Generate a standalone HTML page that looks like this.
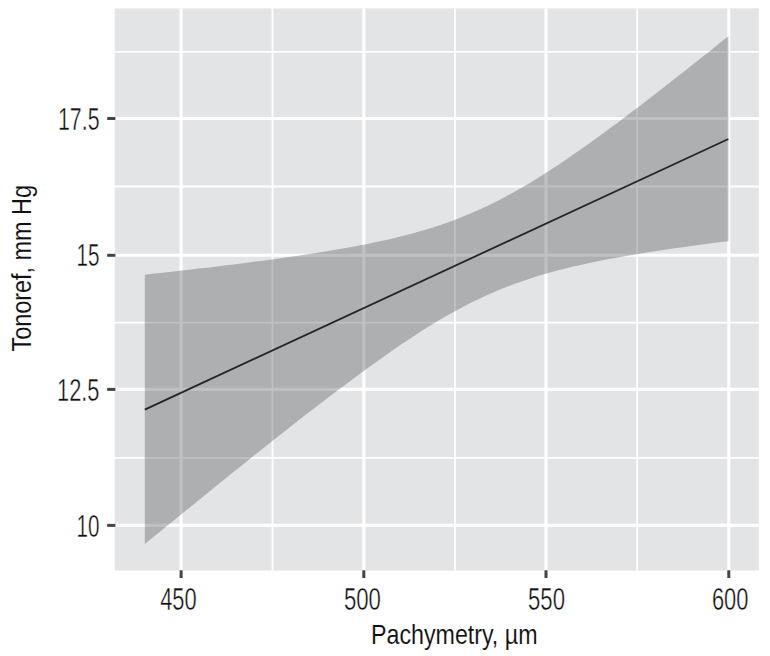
<!DOCTYPE html>
<html><head><meta charset="utf-8"><title>Tonoref vs Pachymetry</title>
<style>
html,body{margin:0;padding:0;background:#fff;}
body{width:770px;height:656px;overflow:hidden;}
svg{display:block;}
text{font-family:"Liberation Sans",Arial,sans-serif;fill:#111;stroke:#fff;stroke-width:0.4px;}
</style></head><body>
<svg width="770" height="656" viewBox="0 0 770 656">
<rect width="770" height="656" fill="#fff"/>
<rect x="114.8" y="8.4" width="644" height="562.1" fill="#e3e4e6"/>
<line x1="272.5" y1="8.4" x2="272.5" y2="570.5" stroke="#fff" stroke-width="1.8"/>
<line x1="454.9" y1="8.4" x2="454.9" y2="570.5" stroke="#fff" stroke-width="1.8"/>
<line x1="637.2" y1="8.4" x2="637.2" y2="570.5" stroke="#fff" stroke-width="1.8"/>
<line x1="114.8" y1="51.8" x2="758.8" y2="51.8" stroke="#fff" stroke-width="1.8"/>
<line x1="114.8" y1="186.5" x2="758.8" y2="186.5" stroke="#fff" stroke-width="1.8"/>
<line x1="114.8" y1="322.7" x2="758.8" y2="322.7" stroke="#fff" stroke-width="1.8"/>
<line x1="114.8" y1="457.9" x2="758.8" y2="457.9" stroke="#fff" stroke-width="1.8"/>
<line x1="181.1" y1="8.4" x2="181.1" y2="570.5" stroke="#fff" stroke-width="3.1"/>
<line x1="363.8" y1="8.4" x2="363.8" y2="570.5" stroke="#fff" stroke-width="3.1"/>
<line x1="546" y1="8.4" x2="546" y2="570.5" stroke="#fff" stroke-width="3.1"/>
<line x1="728.8" y1="8.4" x2="728.8" y2="570.5" stroke="#fff" stroke-width="3.1"/>
<line x1="114.8" y1="118.5" x2="758.8" y2="118.5" stroke="#fff" stroke-width="3.1"/>
<line x1="114.8" y1="255.3" x2="758.8" y2="255.3" stroke="#fff" stroke-width="3.1"/>
<line x1="114.8" y1="389.4" x2="758.8" y2="389.4" stroke="#fff" stroke-width="3.1"/>
<line x1="114.8" y1="525.4" x2="758.8" y2="525.4" stroke="#fff" stroke-width="3.1"/>
<polygon points="144.8,274.68 152.19,273.87 159.57,273.06 166.96,272.24 174.35,271.41 181.74,270.57 189.12,269.72 196.51,268.87 203.9,268 211.29,267.13 218.67,266.24 226.06,265.35 233.45,264.43 240.84,263.51 248.22,262.57 255.61,261.62 263,260.64 270.38,259.65 277.77,258.64 285.16,257.61 292.55,256.56 299.93,255.47 307.32,254.37 314.71,253.23 322.1,252.05 329.48,250.85 336.87,249.6 344.26,248.31 351.65,246.97 359.03,245.58 366.42,244.13 373.81,242.62 381.19,241.04 388.58,239.38 395.97,237.64 403.36,235.81 410.74,233.88 418.13,231.85 425.52,229.69 432.91,227.41 440.29,225 447.68,222.44 455.07,219.73 462.46,216.85 469.84,213.82 477.23,210.61 484.62,207.23 492.01,203.67 499.39,199.95 506.78,196.05 514.17,192 521.55,187.78 528.94,183.42 536.33,178.92 543.72,174.29 551.1,169.53 558.49,164.66 565.88,159.69 573.27,154.62 580.65,149.47 588.04,144.23 595.43,138.93 602.82,133.55 610.2,128.12 617.59,122.63 624.98,117.1 632.36,111.51 639.75,105.89 647.14,100.23 654.53,94.53 661.91,88.8 669.3,83.04 676.69,77.26 684.08,71.45 691.46,65.62 698.85,59.76 706.24,53.89 713.63,48 721.01,42.1 728.4,36.18 728.4,241.14 721.01,242.08 713.63,243.02 706.24,243.99 698.85,244.97 691.46,245.97 684.08,246.99 676.69,248.04 669.3,249.1 661.91,250.2 654.53,251.32 647.14,252.48 639.75,253.67 632.36,254.9 624.98,256.17 617.59,257.49 610.2,258.85 602.82,260.27 595.43,261.76 588.04,263.3 580.65,264.92 573.27,266.62 565.88,268.41 558.49,270.29 551.1,272.27 543.72,274.37 536.33,276.59 528.94,278.94 521.55,281.43 514.17,284.07 506.78,286.87 499.39,289.83 492.01,292.96 484.62,296.26 477.23,299.73 469.84,303.37 462.46,307.19 455.07,311.17 447.68,315.31 440.29,319.6 432.91,324.04 425.52,328.62 418.13,333.32 410.74,338.13 403.36,343.06 395.97,348.08 388.58,353.2 381.19,358.39 373.81,363.67 366.42,369.01 359.03,374.41 351.65,379.88 344.26,385.39 336.87,390.95 329.48,396.56 322.1,402.2 314.71,407.88 307.32,413.6 299.93,419.34 292.55,425.12 285.16,430.91 277.77,436.73 270.38,442.58 263,448.44 255.61,454.32 248.22,460.22 240.84,466.14 233.45,472.06 226.06,478.01 218.67,483.96 211.29,489.93 203.9,495.91 196.51,501.9 189.12,507.9 181.74,513.9 174.35,519.92 166.96,525.94 159.57,531.97 152.19,538.01 144.8,544.06" fill="#58595c" fill-opacity="0.38"/>
<line x1="144.8" y1="409.67" x2="728.4" y2="138.96" stroke="#252525" stroke-width="1.8" stroke-linecap="butt"/>
<line x1="107.2" y1="118.5" x2="115.4" y2="118.5" stroke="#444" stroke-width="3.0"/>
<line x1="107.2" y1="255.3" x2="115.4" y2="255.3" stroke="#444" stroke-width="3.0"/>
<line x1="107.2" y1="389.4" x2="115.4" y2="389.4" stroke="#444" stroke-width="3.0"/>
<line x1="107.2" y1="525.4" x2="115.4" y2="525.4" stroke="#444" stroke-width="3.0"/>
<line x1="181.1" y1="570.3" x2="181.1" y2="578" stroke="#444" stroke-width="3.0"/>
<line x1="363.8" y1="570.3" x2="363.8" y2="578" stroke="#444" stroke-width="3.0"/>
<line x1="546" y1="570.3" x2="546" y2="578" stroke="#444" stroke-width="3.0"/>
<line x1="728.8" y1="570.3" x2="728.8" y2="578" stroke="#444" stroke-width="3.0"/>
<text x="99.5" y="130" font-size="30.5" textLength="41.5" lengthAdjust="spacingAndGlyphs" text-anchor="end">17.5</text>
<text x="99.5" y="265.8" font-size="30.5" textLength="23" lengthAdjust="spacingAndGlyphs" text-anchor="end">15</text>
<text x="99.5" y="400.8" font-size="30.5" textLength="42.5" lengthAdjust="spacingAndGlyphs" text-anchor="end">12.5</text>
<text x="99.5" y="537" font-size="30.5" textLength="23" lengthAdjust="spacingAndGlyphs" text-anchor="end">10</text>
<text x="178.4" y="610" font-size="30.5" textLength="36.5" lengthAdjust="spacingAndGlyphs" text-anchor="middle">450</text>
<text x="362.4" y="610" font-size="30.5" textLength="37" lengthAdjust="spacingAndGlyphs" text-anchor="middle">500</text>
<text x="546.5" y="610" font-size="30.5" textLength="37" lengthAdjust="spacingAndGlyphs" text-anchor="middle">550</text>
<text x="730.2" y="610" font-size="30.5" textLength="36.5" lengthAdjust="spacingAndGlyphs" text-anchor="middle">600</text>
<text x="371" y="643.6" font-size="27.5" textLength="166.5" lengthAdjust="spacingAndGlyphs" text-anchor="start" style="stroke-width:0.1px">Pachymetry, µm</text>
<text x="31.25" y="351.5" font-size="28.5" textLength="166.5" lengthAdjust="spacingAndGlyphs" text-anchor="start" transform="rotate(-90 31.25 351.5)" style="stroke-width:0.1px">Tonoref, mm Hg</text>
</svg>
</body></html>
